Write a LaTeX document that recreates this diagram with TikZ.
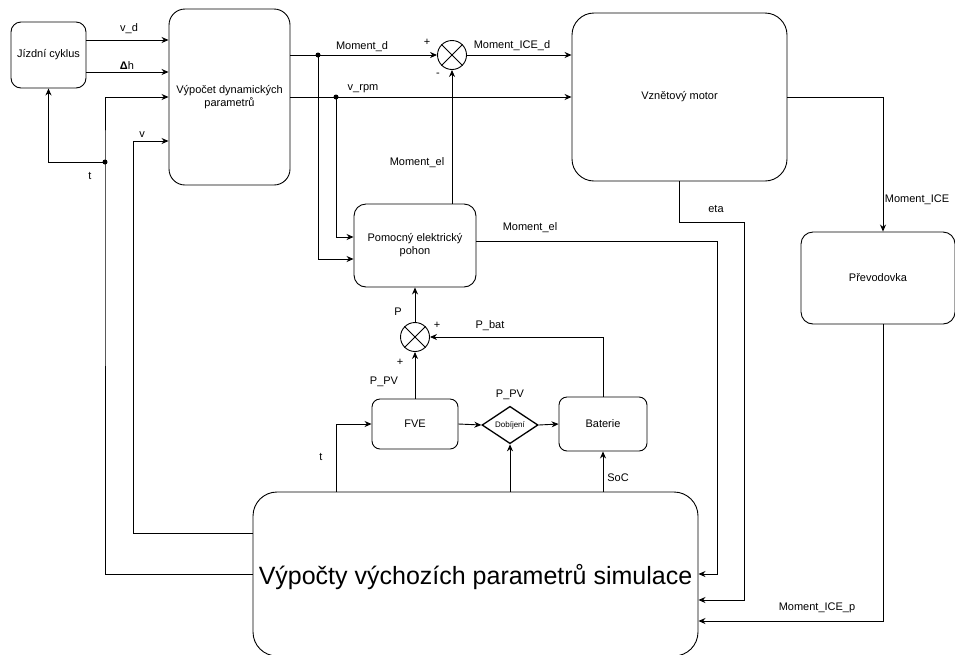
\documentclass[tikz,border=0pt]{standalone}
\usepackage{fontspec}
\setmainfont{Liberation Sans}
\usetikzlibrary{arrows.meta,shapes.geometric,calc}
\begin{document}
\begin{tikzpicture}[x=1pt,y=-1pt,line width=0.9pt,
  box/.style={draw,rounded corners=#1,align=center,font=\fontsize{11}{13}\selectfont,inner sep=0pt},
  box/.default=10pt,
  arr/.style={-{Stealth[length=7pt,width=6pt]}},
  lbl/.style={font=\fontsize{11}{13}\selectfont,inner sep=0pt},
  sum/.style={draw,circle,minimum size=29pt,inner sep=0pt},
  dotc/.style={circle,fill,inner sep=0pt,minimum size=5pt}]
\useasboundingbox (0,0) rectangle (955,654);
% blocks
\node[box=10pt,minimum width=75pt,minimum height=66pt] (jc) at (48.5,55) {Jízdní cyklus};
\node[box=16pt,minimum width=121pt,minimum height=176pt] (vdp) at (229.5,97) {Výpočet dynamických\\parametrů};
\node[box=22pt,minimum width=215pt,minimum height=168pt] (motor) at (679.5,97) {Vznětový motor};
\node[box=12pt,minimum width=154pt,minimum height=92pt] (prev) at (878,278) {Převodovka};
\node[box=12pt,minimum width=122pt,minimum height=83pt] (pom) at (415,245.5) {Pomocný elektrický\\pohon};
\node[box=8pt,minimum width=86pt,minimum height=50pt] (fve) at (415,424) {FVE};
\node[box=8pt,minimum width=88pt,minimum height=54pt] (bat) at (603,424) {Baterie};
\node[draw,diamond,line width=1.3pt,minimum width=56pt,minimum height=34pt,inner sep=0pt,font=\fontsize{8}{9}\selectfont] (dob) at (510,425) {Dobíjení};
\node[box=24pt,minimum width=445pt,minimum height=164pt,font=\fontsize{25}{30}\selectfont] (sim) at (475.5,574) {};
\node[font=\fontsize{25}{30}\selectfont,inner sep=0pt] (simt) at (475.5,577) {Výpočty výchozích parametrů simulace};
% summation nodes
\node[sum] (s1) at (452,55) {};
\draw (s1.north east) -- (s1.south west) (s1.north west) -- (s1.south east);
\node[sum] (s2) at (415,337) {};
\draw (s2.north east) -- (s2.south west) (s2.north west) -- (s2.south east);
% helper coordinates
\coordinate (tdot) at (105,162);
\coordinate (vc) at (133,141);
\coordinate (md) at (318,55);
\coordinate (vr) at (336,97);
\coordinate (mel) at (717,574);
\coordinate (eta1) at (744,222);
\coordinate (tfx) at (336,0);
% connectors
\draw[arr] ([yshift=15pt]jc.east) -- ([yshift=15pt]jc.east -| vdp.west);
\draw[arr] ([yshift=-17pt]jc.east) -- ([yshift=-17pt]jc.east -| vdp.west);
\draw[arr] (sim.west) -| (tdot) |- (vdp.west);
\draw[arr] (tdot) -| (jc.south);
\draw[arr] ([yshift=41pt]sim.west) -| (vc) -- (vc -| vdp.west);
\draw[arr] (vdp.east |- s1.west) -- (s1.west);
\draw[arr] (md) |- ([yshift=-13.5pt]pom.west);
\draw[arr] (vdp.east) -- (motor.west);
\draw[arr] (vr) |- ([yshift=8.5pt]pom.west);
\draw[arr] (s1.east) -- (s1.east -| motor.west);
\draw[arr] (pom.north -| s1.south) -- (s1.south);
\draw[arr] ([yshift=4.5pt]pom.east) -| (mel) -- (mel -| sim.east);
\draw[arr] (motor.south) |- (eta1) |- ([yshift=-26pt]sim.east);
\draw[arr] (motor.east) -| ([xshift=5pt]prev.north);
\draw[arr] ([xshift=5pt]prev.south) |- ([yshift=-47pt]sim.east);
\draw[arr] (sim.north -| tfx) |- (fve.west);
\draw[arr] (fve.north) -- (s2.south);
\draw[arr] (s2.north) -- (pom.south);
\draw[arr] (bat.north) |- (s2.east);
\draw[arr] (fve.east) -- (dob.west);
\draw[arr] (dob.east) -- (bat.west);
\draw[arr] (sim.north -| dob.south) -- (dob.south);
\draw[arr] (sim.north -| bat.south) -- (bat.south);
% dots
\node[dotc] (d1) at (tdot) {};
\node[dotc] (d2) at (md) {};
\node[dotc] (d3) at (vr) {};
% labels
\node[lbl] (l1) at (129,29) {v\_d};
\node[lbl] (l2) at (127,66) {\textbf{Δ}h};
\node[lbl] (l3) at (142,135) {v};
\node[lbl] (l4) at (90,176) {t};
\node[lbl] (l5) at (362,47) {Moment\_d};
\node[lbl] (l6) at (427,42) {+};
\node[lbl] (l7) at (438,75) {-};
\node[lbl] (l8) at (512,46) {Moment\_ICE\_d};
\node[lbl] (l9) at (363,89) {v\_rpm};
\node[lbl] (l10) at (417,163) {Moment\_el};
\node[lbl] (l11) at (530,228) {Moment\_el};
\node[lbl] (l12) at (398,312) {P};
\node[lbl] (l13) at (437,325) {+};
\node[lbl] (l14) at (490,326) {P\_bat};
\node[lbl] (l15) at (400,362) {+};
\node[lbl] (l16) at (384,382) {P\_PV};
\node[lbl] (l17) at (510,395) {P\_PV};
\node[lbl] (l18) at (321,457) {t};
\node[lbl] (l19) at (618,478) {SoC};
\node[lbl] (l20) at (716,209) {eta};
\node[lbl] (l21) at (917,200) {Moment\_ICE};
\node[lbl] (l22) at (817,608) {Moment\_ICE\_p};
\end{tikzpicture}
\end{document}
